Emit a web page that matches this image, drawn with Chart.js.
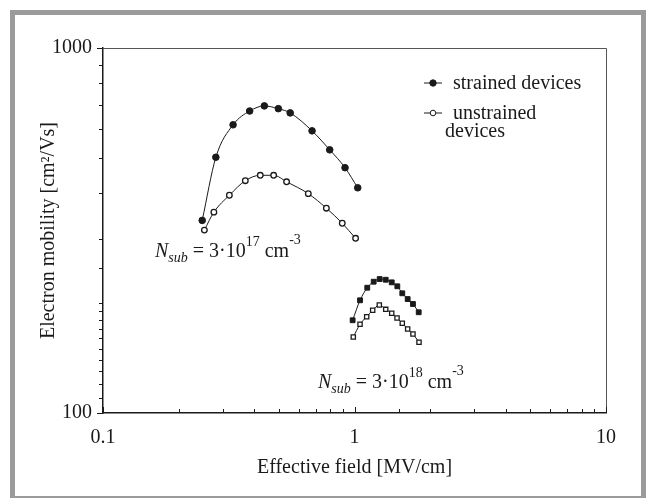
<!DOCTYPE html>
<html>
<head>
<meta charset="utf-8">
<script src="https://cdn.jsdelivr.net/npm/chart.js@4.4.0/dist/chart.umd.min.js"></script>
<style>
    html, body { margin: 0; padding: 0; background: #fff; }
    #ramme { position: absolute; left: 10px; top: 10px; width: 636px; height: 491px; box-sizing: border-box; border: 5px solid #9b9b9b; }
    #boks { position: absolute; left: 0; top: 0; width: 646px; height: 498px; }
</style>
</head>
<body>
<div id="ramme"></div>
<div id="boks"><canvas id="myChart"></canvas></div>
<script>
// verdier lest av figuren (effektivt felt i MV/cm, mobilitet i cm2/Vs)
// Nsub = 3e17
const strained17X = [0.248, 0.281, 0.329, 0.383, 0.438, 0.498, 0.555, 0.678, 0.797, 0.917, 1.03];
const strained17Y = [337, 502, 616, 672, 694, 682, 664, 593, 526, 470, 414];
const unstrained17X = [0.253, 0.276, 0.318, 0.368, 0.422, 0.477, 0.537, 0.655, 0.773, 0.894, 1.01];
const unstrained17Y = [317, 355, 395, 433, 448, 448, 430, 399, 364, 331, 301];
// Nsub = 3e18
const strained18X = [0.983, 1.052, 1.124, 1.192, 1.259, 1.331, 1.406, 1.48, 1.549, 1.627, 1.708, 1.8];
const strained18Y = [179.5, 203.6, 220.4, 228.9, 232.8, 231.8, 228, 222.4, 212.8, 205.2, 198.9, 188.8];
const unstrained18X = [0.989, 1.052, 1.118, 1.181, 1.255, 1.331, 1.406, 1.476, 1.549, 1.627, 1.708, 1.805];
const unstrained18Y = [161.5, 175, 183.6, 191.2, 197.6, 192.3, 187.6, 182.1, 176.1, 169.9, 164.6, 156.2];

// akser
const xTickLabels = [0.1, 1, 10];
const yTickLabels = [100, 1000];
const legendLabels = ['strained devices', 'unstrained', 'devices'];

const serif = '"Liberation Serif", "Times New Roman", serif';
const ink = '#1a1a1a';

// lager {x, y} par
function punkter(xs, ys) {
    return xs.map((v, i) => ({ x: v, y: ys[i] }));
}

function erMerket(v, liste) {
    return liste.some(l => Math.abs(v - l) / l < 1e-6);
}

// tekst med hevet/senket skrift
function rikTekst(ctx, x, y, deler) {
    let px = x;
    deler.forEach(d => {
        ctx.font = d.f;
        ctx.fillText(d.t, px, y + (d.dy || 0));
        px += ctx.measureText(d.t).width + (d.gap || 0);
    });
}

const pynt = {
    id: 'pynt',
    afterDraw(chart) {
        const { ctx, chartArea: a, scales: { x, y } } = chart;
        ctx.save();
        ctx.lineWidth = 1;

        // topp og høyre kant
        ctx.strokeStyle = '#555';
        ctx.beginPath();
        ctx.moveTo(a.left, a.top + 0.5);
        ctx.lineTo(a.right + 0.5, a.top + 0.5);
        ctx.lineTo(a.right + 0.5, a.bottom);
        ctx.stroke();

        // tick marks: x innover, y utover
        ctx.strokeStyle = ink;
        x.ticks.forEach(t => {
            const px = Math.round(x.getPixelForValue(t.value)) + 0.5;
            const len = erMerket(t.value, xTickLabels) ? 6 : 4;
            ctx.beginPath();
            ctx.moveTo(px, a.bottom);
            ctx.lineTo(px, a.bottom - len);
            ctx.stroke();
        });
        y.ticks.forEach(t => {
            const py = Math.round(y.getPixelForValue(t.value)) + 0.5;
            const len = erMerket(t.value, yTickLabels) ? 6 : 4;
            ctx.beginPath();
            ctx.moveTo(a.left, py);
            ctx.lineTo(a.left - len, py);
            ctx.stroke();
        });

        // forklaring
        const lx = a.left + 330, ly1 = a.top + 35, ly2 = a.top + 65;
        ctx.fillStyle = ink;
        ctx.textBaseline = 'middle';
        ctx.textAlign = 'left';
        [[ly1, true], [ly2, false]].forEach(([ly, fylt]) => {
            ctx.beginPath();
            ctx.moveTo(lx - 9, ly);
            ctx.lineTo(lx + 9, ly);
            ctx.stroke();
            ctx.beginPath();
            ctx.arc(lx, ly, fylt ? 3.2 : 2.8, 0, Math.PI * 2);
            ctx.fillStyle = fylt ? ink : '#fff';
            ctx.fill();
            ctx.stroke();
        });
        ctx.fillStyle = ink;
        ctx.font = '20px ' + serif;
        ctx.fillText(legendLabels[0], lx + 20, ly1 + 1);
        ctx.fillText(legendLabels[1], lx + 20, ly2 + 1);
        ctx.fillText(legendLabels[2], lx + 12, ly2 + 19);

        // Nsub-merker
        ctx.textBaseline = 'alphabetic';
        const stor = '20px ' + serif, liten = '14px ' + serif;
        const nsub = (px, py, eks) => rikTekst(ctx, px, py, [
            { t: 'N', f: 'italic ' + stor },
            { t: 'sub', f: 'italic ' + liten, dy: 5 },
            { t: ' = 3·10', f: stor },
            { t: eks, f: liten, dy: -11 },
            { t: ' cm', f: stor },
            { t: '-3', f: liten, dy: -13 }
        ]);
        nsub(x.getPixelForValue(0.161), y.getPixelForValue(267.6), '17');
        nsub(x.getPixelForValue(0.716), y.getPixelForValue(117.1), '18');

        ctx.restore();
    }
};

function serie(label, xs, ys, stil, fylt, r) {
    return {
        label: label,
        data: punkter(xs, ys),
        showLine: true,
        borderColor: ink,
        borderWidth: 1,
        tension: 0.4,
        cubicInterpolationMode: 'monotone',
        pointStyle: stil,
        pointRadius: r,
        pointBorderWidth: fylt ? 1 : 1.3,
        pointBorderColor: ink,
        pointBackgroundColor: fylt ? ink : '#fff',
    };
}

function renderChart() {
    const ctx = document.getElementById('myChart').getContext('2d');
    const myChart = new Chart(ctx, {
        type: 'scatter',
        data: {
            datasets: [
                serie('strained 3e17', strained17X, strained17Y, 'circle', true, 3.3),
                serie('unstrained 3e17', unstrained17X, unstrained17Y, 'circle', false, 2.8),
                serie('strained 3e18', strained18X, strained18Y, 'rect', true, 3.4),
                serie('unstrained 3e18', unstrained18X, unstrained18Y, 'rect', false, 3),
            ]
        },
        options: {
            responsive: true,
            maintainAspectRatio: false,
            animation: false,
            layout: { padding: { top: 48, right: 40, left: 0, bottom: 0 } },
            plugins: { legend: { display: false }, tooltip: { enabled: false } },
            scales: {
                x: {
                    type: 'logarithmic',
                    min: 0.1,
                    max: 10,
                    afterFit: s => { s.height = 85; },
                    grid: { display: false, drawTicks: false },
                    border: { display: true, color: ink, width: 1.5 },
                    ticks: {
                        autoSkip: false,
                        maxRotation: 0,
                        padding: 13,
                        color: ink,
                        font: { family: serif, size: 20 },
                        callback: v => erMerket(v, xTickLabels) ? String(v) : ''
                    },
                    title: {
                        display: true,
                        text: 'Effective field [MV/cm]',
                        color: ink,
                        font: { family: serif, size: 20 },
                        padding: { top: 0, bottom: 18 }
                    }
                },
                y: {
                    type: 'logarithmic',
                    min: 100,
                    max: 1000,
                    afterFit: s => { s.width = 103; },
                    grid: { display: false, drawTicks: false },
                    border: { display: true, color: ink, width: 1.5 },
                    ticks: {
                        autoSkip: false,
                        padding: 11,
                        color: ink,
                        font: { family: serif, size: 20 },
                        callback: v => erMerket(v, yTickLabels) ? String(v) : ''
                    },
                    title: {
                        display: true,
                        text: 'Electron mobility [cm²/Vs]',
                        color: ink,
                        font: { family: serif, size: 20 },
                        padding: { top: 37, bottom: 0 }
                    }
                }
            }
        },
        plugins: [pynt]
    });
}

renderChart();
</script>
</body>
</html>
